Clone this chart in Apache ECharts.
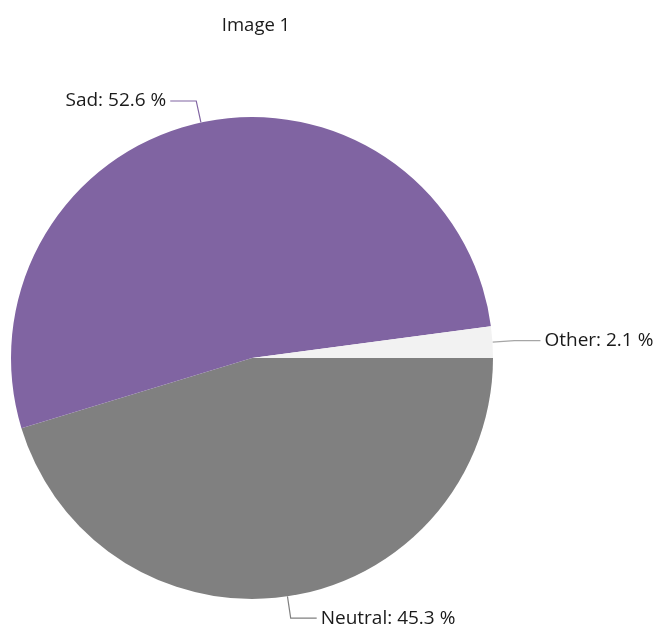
<!DOCTYPE html>
<html><head><meta charset="utf-8">
<script src="https://cdn.jsdelivr.net/npm/echarts@6/dist/echarts.min.js"></script>
<style>html,body{margin:0;padding:0;background:#fff}#c{width:661px;height:633px}</style>
</head><body><div id="c"></div>
<script>
const title = 'Image 1';
const categories = ['Neutral', 'Sad', 'Other'];
const values = [45.3, 52.6, 2.1];
const colors = ['#808080', '#8064A2', '#F2F2F2'];
const lineColors = ['#808080', '#8064A2', '#A6A6A6'];

const chart = echarts.init(document.getElementById('c'));
chart.setOption({
  animation: false,
  title: {
    text: title, left: 251, top: 11, textAlign: 'center',
    textStyle: { fontFamily: 'Open Sans', fontSize: 18.5, fontWeight: 'normal', color: '#1a1a1a' }
  },
  series: [{
    type: 'pie',
    center: [252, 358],
    radius: 241,
    startAngle: 0,
    clockwise: true,
    avoidLabelOverlap: false,
    data: categories.map((c, i) => ({
      name: c, value: values[i],
      itemStyle: { color: colors[i] },
      labelLine: { lineStyle: { color: lineColors[i] } }
    })),
    label: {
      formatter: p => p.name + ': ' + p.value.toFixed(1) + ' %',
      fontFamily: 'Open Sans', fontSize: 19, color: '#1a1a1a',
      distanceToLabelLine: 4
    },
    labelLine: { show: true, length: 22, length2: 26, smooth: false, lineStyle: { width: 1.2 } },
    emphasis: { disabled: true }
  }]
});
</script></body></html>
